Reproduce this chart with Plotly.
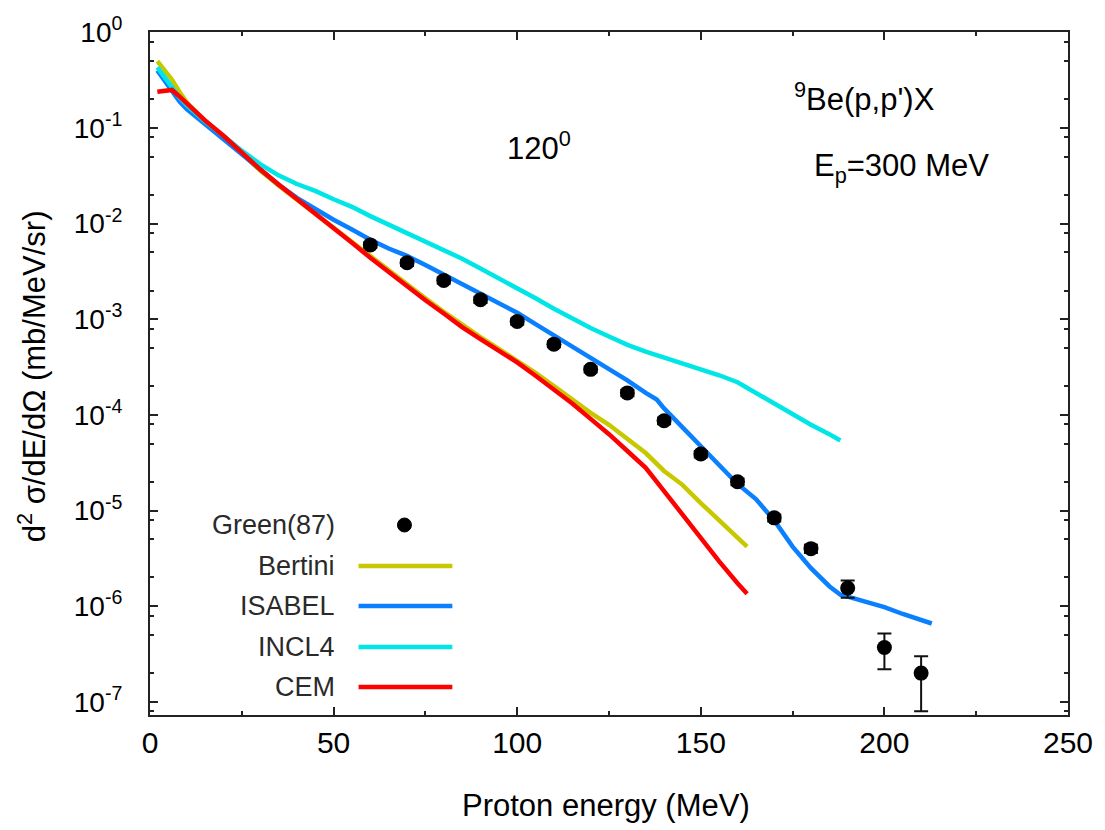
import plotly.graph_objects as go

# Experimental data: Green(87), 9Be(p,p')X at 120 deg, Ep = 300 MeV
x_exp = [60, 70, 80, 90, 100, 110, 120, 130, 140, 150, 160, 170, 180, 190, 200, 210]
y_exp = [6.0e-3, 3.9e-3, 2.55e-3, 1.6e-3, 9.5e-4, 5.5e-4, 3.0e-4, 1.7e-4, 8.7e-5,
         3.9e-5, 2.0e-5, 8.4e-6, 4.0e-6, 1.55e-6, 3.7e-7, 2.0e-7]
err_plus = [4e-4, 3e-4, 2e-4, 1.2e-4, 7e-5, 4e-5, 2.2e-5, 1.3e-5, 7e-6,
            3e-6, 1.6e-6, 7e-7, 4e-7, 3.1e-7, 1.5e-7, 1.0e-7]
err_minus = [4e-4, 3e-4, 2e-4, 1.2e-4, 7e-5, 4e-5, 2.2e-5, 1.3e-5, 7e-6,
             3e-6, 1.6e-6, 7e-7, 4e-7, 3.2e-7, 1.5e-7, 1.2e-7]

# Model calculations
x_bertini = [2, 4, 6, 8, 10, 15, 20, 25, 30, 35, 40, 45, 50, 55, 60, 65, 70, 75, 80, 85,
             90, 95, 100, 105, 110, 115, 120, 125, 130, 135, 140, 145, 150, 155, 160, 162.6]
y_bertini = [0.50, 0.40, 0.32, 0.24, 0.186, 0.117, 0.081, 0.054, 0.036, 0.025, 0.0178,
             0.0126, 0.0089, 0.0065, 0.0046, 0.0032, 0.0023, 0.00166, 0.0012, 8.7e-4,
             6.5e-4, 4.9e-4, 3.7e-4, 2.75e-4, 2.0e-4, 1.45e-4, 1.05e-4, 7.9e-5, 5.6e-5,
             4.0e-5, 2.6e-5, 1.86e-5, 1.2e-5, 7.9e-6, 5.1e-6, 4.2e-6]

x_isabel = [2, 4, 6, 8, 10, 15, 20, 25, 30, 35, 40, 45, 50, 55, 60, 65, 70, 75, 80, 85,
            90, 95, 100, 105, 110, 115, 120, 125, 130, 135, 138, 140, 145, 150, 155, 160,
            165, 170, 175, 180, 185, 188, 190, 195, 200, 205, 210, 212.9]
y_isabel = [0.40, 0.31, 0.24, 0.19, 0.158, 0.11, 0.076, 0.052, 0.037, 0.0257, 0.0186,
            0.0141, 0.011, 0.0087, 0.0068, 0.0055, 0.0046, 0.0037, 0.00295, 0.00234,
            0.00186, 0.00148, 0.00117, 8.9e-4, 6.8e-4, 5.1e-4, 4.0e-4, 3.0e-4, 2.3e-4,
            1.7e-4, 1.45e-4, 1.17e-4, 7.4e-5, 4.6e-5, 2.9e-5, 1.9e-5, 1.32e-5, 7.9e-6,
            4.2e-6, 2.5e-6, 1.62e-6, 1.32e-6, 1.26e-6, 1.1e-6, 9.8e-7, 8.3e-7, 7.2e-7,
            6.6e-7]

x_incl4 = [2, 4, 6, 8, 10, 15, 20, 25, 30, 35, 40, 45, 50, 55, 60, 65, 70, 75, 80, 85,
           90, 95, 100, 105, 110, 115, 120, 125, 130, 135, 140, 145, 150, 155, 160, 165,
           170, 175, 180, 185, 188]
y_incl4 = [0.43, 0.34, 0.26, 0.21, 0.174, 0.117, 0.083, 0.058, 0.042, 0.032, 0.026,
           0.022, 0.018, 0.015, 0.012, 0.0098, 0.0079, 0.0066, 0.0054, 0.0043, 0.0034,
           0.0027, 0.00214, 0.00166, 0.00129, 0.00102, 8.1e-4, 6.6e-4, 5.4e-4, 4.6e-4,
           4.0e-4, 3.5e-4, 3.0e-4, 2.6e-4, 2.2e-4, 1.7e-4, 1.32e-4, 1.02e-4, 7.9e-5,
           6.3e-5, 5.4e-5]

x_cem = [2, 4, 6, 8, 10, 15, 20, 25, 30, 35, 40, 45, 50, 55, 60, 65, 70, 75, 80, 85,
         90, 95, 100, 105, 110, 115, 120, 125, 130, 135, 140, 145, 150, 155, 160, 162.6]
y_cem = [0.24, 0.245, 0.25, 0.214, 0.18, 0.12, 0.083, 0.055, 0.037, 0.0257, 0.0182,
         0.0129, 0.0091, 0.0063, 0.0044, 0.0031, 0.0022, 0.00158, 0.00115, 8.3e-4,
         6.2e-4, 4.7e-4, 3.55e-4, 2.57e-4, 1.86e-4, 1.32e-4, 9.1e-5, 6.3e-5, 4.2e-5,
         2.8e-5, 1.6e-5, 9.1e-6, 5.1e-6, 2.95e-6, 1.74e-6, 1.35e-6]

# Axis ticks
x_major = [0, 50, 100, 150, 200, 250]
x_minor = [25, 75, 125, 175, 225]
y_major = [1e-7, 1e-6, 1e-5, 1e-4, 1e-3, 1e-2, 1e-1, 1]
y_major_text = ["10<sup>-7</sup>", "10<sup>-6</sup>", "10<sup>-5</sup>", "10<sup>-4</sup>",
                "10<sup>-3</sup>", "10<sup>-2</sup>", "10<sup>-1</sup>", "10<sup>0</sup>"]
y_minor = [8e-8, 2e-7, 5e-7, 8e-7, 2e-6, 5e-6, 8e-6, 2e-5, 5e-5, 8e-5, 2e-4, 5e-4, 8e-4,
           2e-3, 5e-3, 8e-3, 2e-2, 5e-2, 8e-2, 0.2, 0.5, 0.8]

models = [
    ("Bertini", x_bertini, y_bertini, "#c8c800"),
    ("ISABEL", x_isabel, y_isabel, "#0a80ff"),
    ("INCL4", x_incl4, y_incl4, "#00e6e6"),
    ("CEM", x_cem, y_cem, "#ff0000"),
]

FONT = "Liberation Sans, Arial, sans-serif"
AXIS = "#222222"

fig = go.Figure()
for name, xs, ys, col in models:
    fig.add_trace(go.Scatter(x=xs, y=ys, mode="lines", name=name,
                             line=dict(color=col, width=4.5), showlegend=False))

fig.add_trace(go.Scatter(
    x=x_exp, y=y_exp, mode="markers", name="Green(87)", showlegend=False,
    marker=dict(color="black", size=15),
    error_y=dict(type="data", symmetric=False, array=err_plus, arrayminus=err_minus,
                 color="#111111", thickness=2, width=7),
))

# Hand-built legend: label on the left, sample on the right
leg_labels = ["Green(87)", "Bertini", "ISABEL", "INCL4", "CEM"]
row_px = [525, 566, 606, 647, 687]
PW, PH, L, T = 920, 683, 150, 32


def px_x(p):
    return (p - L) / PW


def px_y(p):
    return (T + PH - p) / PH


annotations = []
shapes = []
for lab, ry in zip(leg_labels, row_px):
    annotations.append(dict(x=px_x(337), y=px_y(ry), xref="paper", yref="paper",
                            text=lab, showarrow=False, xanchor="right", yanchor="middle",
                            font=dict(family=FONT, size=27, color="#2a2a2a")))
shapes.append(dict(type="circle", xref="paper", yref="paper",
                   x0=px_x(398), x1=px_x(412), y0=px_y(532), y1=px_y(518),
                   fillcolor="black", line=dict(color="black", width=1)))
for (name, _, _, col), ry in zip(models, row_px[1:]):
    shapes.append(dict(type="line", xref="paper", yref="paper",
                       x0=px_x(359), x1=px_x(453), y0=px_y(ry), y1=px_y(ry),
                       line=dict(color=col, width=4.5)))

annotations += [
    dict(x=px_x(540), y=px_y(146), xref="paper", yref="paper", text="120<sup>0</sup>",
         showarrow=False, xanchor="center", yanchor="middle",
         font=dict(family=FONT, size=31, color="black")),
    dict(x=px_x(793), y=px_y(97), xref="paper", yref="paper",
         text="<sup>9</sup>Be(p,p')X", showarrow=False, xanchor="left", yanchor="middle",
         font=dict(family=FONT, size=31, color="black")),
    dict(x=px_x(813), y=px_y(168), xref="paper", yref="paper",
         text="E<sub>p</sub>=300 MeV", showarrow=False, xanchor="left", yanchor="middle",
         font=dict(family=FONT, size=31, color="black")),
    dict(x=px_x(607), y=px_y(805), xref="paper", yref="paper",
         text="Proton energy (MeV)", showarrow=False, xanchor="center", yanchor="middle",
         font=dict(family=FONT, size=31, color="black")),
    dict(x=px_x(32), y=px_y(376), xref="paper", yref="paper", textangle=-90,
         text="d<sup>2</sup> σ/dE/dΩ (mb/MeV/sr)", showarrow=False,
         xanchor="center", yanchor="middle",
         font=dict(family=FONT, size=31, color="black")),
]

fig.update_layout(
    width=1105, height=830,
    margin=dict(l=L, r=1105 - L - PW, t=T, b=830 - T - PH),
    paper_bgcolor="white", plot_bgcolor="white",
    font=dict(family=FONT, color="black"),
    annotations=annotations, shapes=shapes,
    xaxis=dict(
        range=[0, 250], tickmode="array", tickvals=x_major,
        ticks="inside", ticklen=8, tickwidth=1.5, tickcolor=AXIS,
        showline=True, linewidth=2, linecolor=AXIS, mirror="allticks",
        showgrid=False, zeroline=False, tickfont=dict(size=30, color="black"),
        ticklabelstandoff=0,
        minor=dict(tickmode="array", tickvals=x_minor, ticks="inside", ticklen=4,
                   tickwidth=1.5, tickcolor=AXIS, showgrid=False),
    ),
    yaxis=dict(
        type="log", range=[-7.137, 0.004], tickmode="array",
        tickvals=y_major, ticktext=y_major_text,
        ticks="inside", ticklen=8, tickwidth=1.5, tickcolor=AXIS,
        showline=True, linewidth=2, linecolor=AXIS, mirror="allticks",
        showgrid=False, zeroline=False, tickfont=dict(size=28, color="black"),
        ticklabelstandoff=20,
        minor=dict(tickmode="array", tickvals=y_minor, ticks="inside", ticklen=4,
                   tickwidth=1.5, tickcolor=AXIS, showgrid=False),
    ),
)

fig.write_html("out.html")
